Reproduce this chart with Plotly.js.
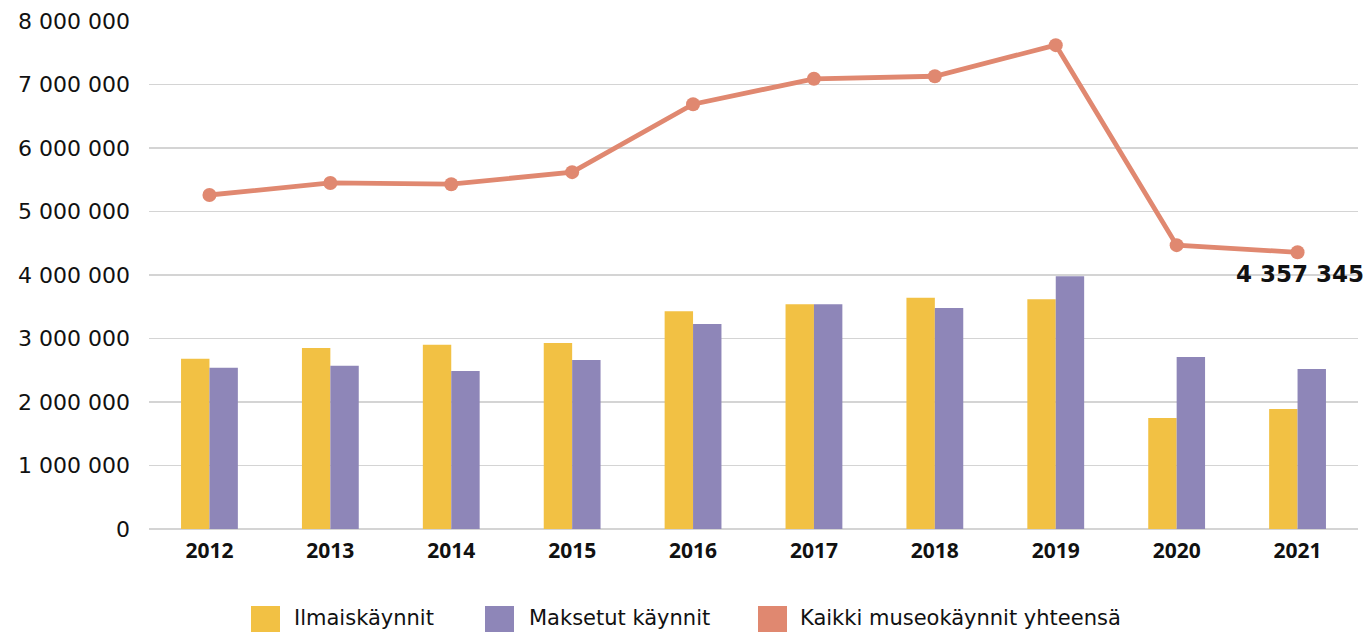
<!DOCTYPE html>
<html>
<head>
<meta charset="utf-8">
<script src="https://cdn.plot.ly/plotly-3.0.1.min.js"></script>
<style>html,body{margin:0;padding:0;background:#fff;}#chart{width:1366px;height:632px;}</style>
</head>
<body>
<div id="chart"></div>
<script>
const years = ['2012','2013','2014','2015','2016','2017','2018','2019','2020','2021'];
const ilmais = [2680000, 2850000, 2900000, 2930000, 3430000, 3540000, 3640000, 3620000, 1750000, 1890000];
const maksetut = [2540000, 2570000, 2490000, 2660000, 3230000, 3540000, 3480000, 3980000, 2710000, 2520000];
const kaikki = [5260000, 5450000, 5430000, 5620000, 6690000, 7090000, 7130000, 7620000, 4470000, 4357345];
const seriesNames = ['Ilmaiskäynnit', 'Maksetut käynnit', 'Kaikki museokäynnit yhteensä'];
const colors = ['#F2C144', '#8E86B8', '#E08870'];
const yTicks = [0, 1000000, 2000000, 3000000, 4000000, 5000000, 6000000, 7000000, 8000000];

const L = 149, R = 8, T = 21, B = 103, W = 1366, H = 632;
const pw = W - L - R, ph = H - T - B;
const px = v => (v - L) / pw;
const py = v => (H - B - v) / ph;

const traces = [
  {type:'bar', x:years, y:ilmais, name:seriesNames[0], marker:{color:colors[0]}, hoverinfo:'x+y'},
  {type:'bar', x:years, y:maksetut, name:seriesNames[1], marker:{color:colors[1]}, hoverinfo:'x+y'},
  {type:'scatter', mode:'lines+markers', x:years, y:kaikki, name:seriesNames[2],
   line:{color:colors[2], width:4.8}, marker:{color:colors[2], size:14}}
];

// manual legend
const legendSq = [[251,280],[485,514],[758,787]];
const legendTx = [292,527,798];
const shapes = [], annotations = [];
for (let i = 0; i < 3; i++) {
  shapes.push({type:'rect', xref:'paper', yref:'paper', x0:px(legendSq[i][0]), x1:px(legendSq[i][1]),
    y0:py(632), y1:py(606), fillcolor:colors[i], line:{width:0}});
  annotations.push({xref:'paper', yref:'paper', x:px(legendTx[i]), y:py(618), xanchor:'left', yanchor:'middle',
    text:seriesNames[i], showarrow:false, font:{family:'DejaVu Sans', size:21, color:'#111'}});
}
const last = years.length - 1;
annotations.push({x:last, y:kaikki[last], xref:'x', yref:'y',
  text:'<b>4 357 345</b>', showarrow:false, xanchor:'center', yanchor:'middle', xshift:2, yshift:-22,
  font:{family:'DejaVu Sans', size:23, color:'#111'}});

const layout = {
  width:W, height:H,
  margin:{l:L, r:R, t:T, b:B, pad:0},
  paper_bgcolor:'#fff', plot_bgcolor:'#fff',
  separators:', ',
  showlegend:false,
  barmode:'group', bargap:0.53, bargroupgap:0,
  xaxis:{type:'category', range:[-0.5, years.length-0.5], showgrid:false, zeroline:false, showline:false, ticks:'',
    tickfont:{family:'Open Sans', size:21, color:'#111', weight:'bold'}, ticklabelstandoff:7, fixedrange:true},
  yaxis:{range:[0,8000000], tickvals:yTicks, tickformat:',d', showgrid:true, gridcolor:'#d4d4d4', gridwidth:1.3,
    zeroline:true, zerolinecolor:'#d4d4d4', zerolinewidth:1.3, showline:false, ticks:'',
    tickfont:{family:'DejaVu Sans', size:22, color:'#111'}, ticklabelstandoff:18, fixedrange:true},
  shapes:shapes, annotations:annotations
};
Plotly.newPlot('chart', traces, layout, {displayModeBar:false, staticPlot:true});
</script>
</body>
</html>
